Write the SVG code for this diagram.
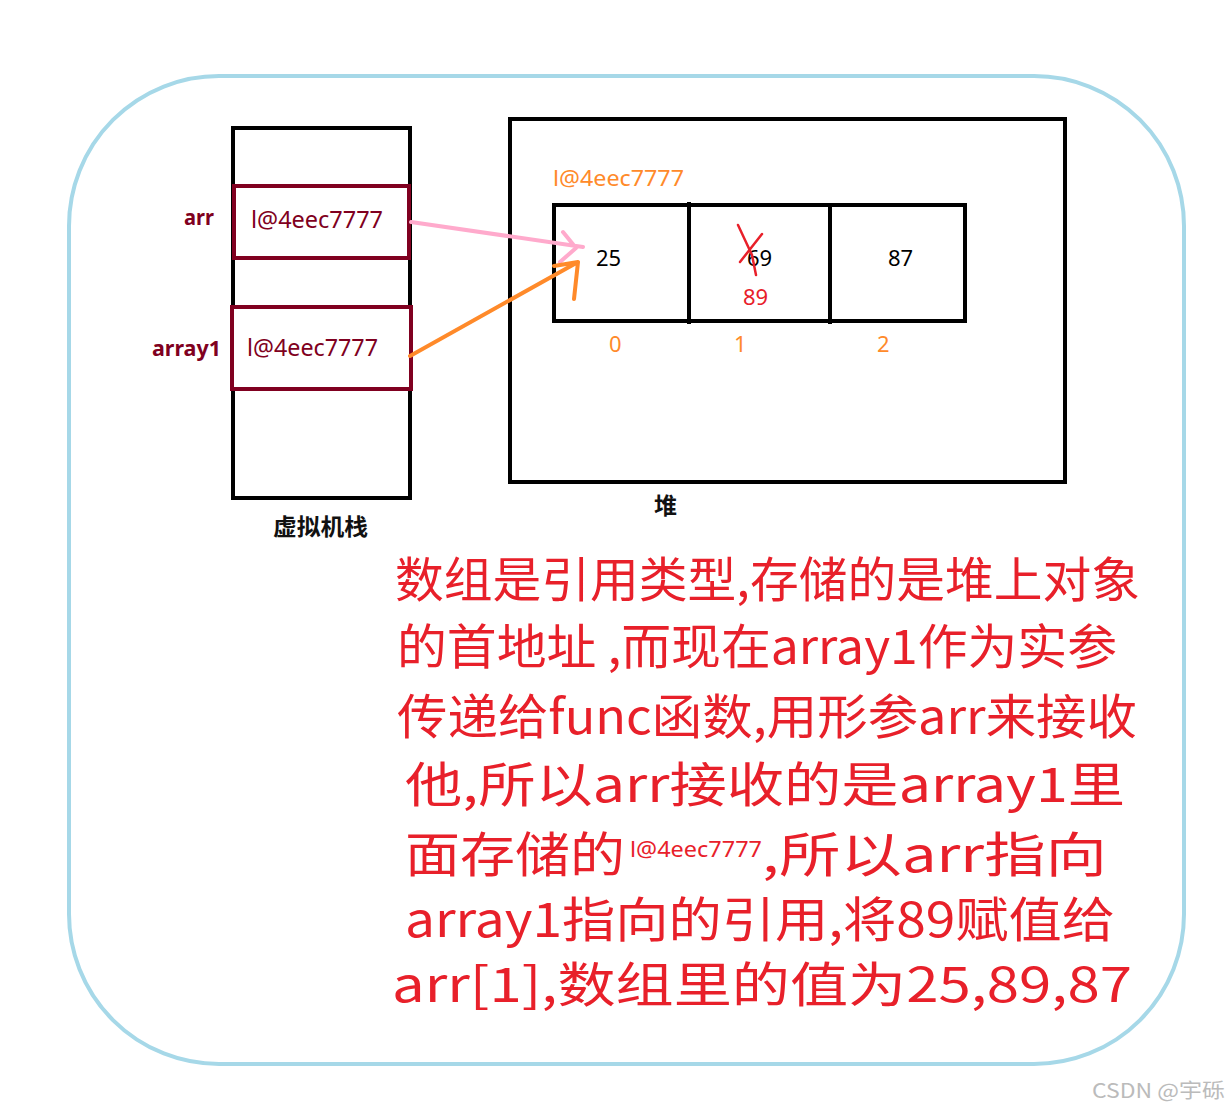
<svg xmlns="http://www.w3.org/2000/svg" width="1230" height="1110" viewBox="0 0 1230 1110">
<style>
.box{fill:none;stroke:#000;stroke-width:4}
.ref{fill:#fff;stroke:#800020;stroke-width:4}
.lbl{font-family:"Noto Sans","Noto Sans CJK SC",sans-serif;font-weight:bold;fill:#800020;font-size:21px}
.addr{font-family:"Noto Sans",sans-serif;fill:#800020;font-size:23px}
.num{font-family:"Noto Sans",sans-serif;fill:#000;font-size:22px}
.idx{font-family:"Noto Sans",sans-serif;fill:#ff8a2a;font-size:22px}
.cap{font-family:"Noto Sans CJK SC",sans-serif;font-weight:bold;fill:#111;font-size:23px}
.hw{font-family:"Noto Sans CJK SC",sans-serif;fill:#e8202a;font-size:48px}
</style>
<rect width="1230" height="1110" fill="#fff"/>
<rect x="69" y="76" width="1115" height="988" rx="150" fill="none" stroke="#a6d8e8" stroke-width="4"/>
<g id="stack">
<rect class="box" x="233" y="128" width="177" height="370"/>
<text class="cap" x="273" y="535" textLength="95" lengthAdjust="spacingAndGlyphs">虚拟机栈</text>
</g>
<g id="arr-ref">
<rect class="ref" x="234" y="186" width="175" height="72"/>
<text class="lbl" x="184" y="225" textLength="30" lengthAdjust="spacingAndGlyphs">arr</text>
<text class="addr" x="251" y="228" textLength="132" lengthAdjust="spacingAndGlyphs">l@4eec7777</text>
</g>
<g id="array1-ref">
<rect class="ref" x="232" y="307" width="179" height="82"/>
<text class="lbl" x="152" y="356" textLength="69" lengthAdjust="spacingAndGlyphs">array1</text>
<text class="addr" x="247" y="356" textLength="131" lengthAdjust="spacingAndGlyphs">l@4eec7777</text>
</g>
<g id="heap">
<rect class="box" x="510" y="119" width="555" height="363"/>
<text class="cap" x="654" y="514">堆</text>
<text class="idx" x="553" y="186" textLength="131" lengthAdjust="spacingAndGlyphs">l@4eec7777</text>
</g>
<g id="array">
<rect class="box" x="554" y="205" width="411" height="116"/>
<line class="box" x1="689" y1="202" x2="689" y2="324"/>
<line class="box" x1="830" y1="204" x2="830" y2="324"/>
<text class="num" x="596" y="266">25</text>
<text class="num" x="747" y="266">69</text>
<text class="num" x="888" y="266">87</text>
<path d="M738 225 L752 255 M740 262 L762 234 M752 255 L756 275" stroke="#e8202a" stroke-width="2.5" fill="none" stroke-linecap="round"/>
<text x="743" y="305" style="font-family:'Noto Sans',sans-serif;fill:#e8202a;font-size:22px">89</text>
<text class="idx" x="609" y="352">0</text>
<text class="idx" x="734" y="352">1</text>
<text class="idx" x="877" y="352">2</text>
</g>
<g id="connectors" fill="none" stroke-linecap="round" stroke-linejoin="round" stroke-width="4">
<path d="M411 222 L583 247 M563 232 L576 248 L560 262" stroke="#ffaacc"/>
<path d="M410 356 L578 262 M554 266 L578 262 L574 299" stroke="#ff8a2a"/>
</g>
<g id="note">
<text class="hw" x="395" y="597" textLength="745" lengthAdjust="spacingAndGlyphs">数组是引用类型,存储的是堆上对象</text>
<text class="hw" x="397" y="664" textLength="720" lengthAdjust="spacingAndGlyphs">的首地址 ,而现在array1作为实参</text>
<text class="hw" x="397" y="734" textLength="740" lengthAdjust="spacingAndGlyphs">传递给func函数,用形参arr来接收</text>
<text class="hw" x="405" y="802" textLength="720" lengthAdjust="spacingAndGlyphs">他,所以arr接收的是array1里</text>
<text class="hw" x="405" y="872" textLength="220" lengthAdjust="spacingAndGlyphs">面存储的</text>
<text x="630" y="857" style="font-family:'Noto Sans',sans-serif;fill:#e8202a;font-size:22px" textLength="132" lengthAdjust="spacingAndGlyphs">l@4eec7777</text>
<text class="hw" x="762" y="872" textLength="345" lengthAdjust="spacingAndGlyphs">,所以arr指向</text>
<text class="hw" x="405" y="937" textLength="710" lengthAdjust="spacingAndGlyphs">array1指向的引用,将89赋值给</text>
<text class="hw" x="392" y="1002" textLength="740" lengthAdjust="spacingAndGlyphs">arr[1],数组里的值为25,89,87</text>
</g>
<text x="1092" y="1098" style="font-family:'Noto Sans CJK SC',sans-serif;fill:#bbb;font-size:20px" textLength="133" lengthAdjust="spacingAndGlyphs">CSDN @宇砾</text>
</svg>
